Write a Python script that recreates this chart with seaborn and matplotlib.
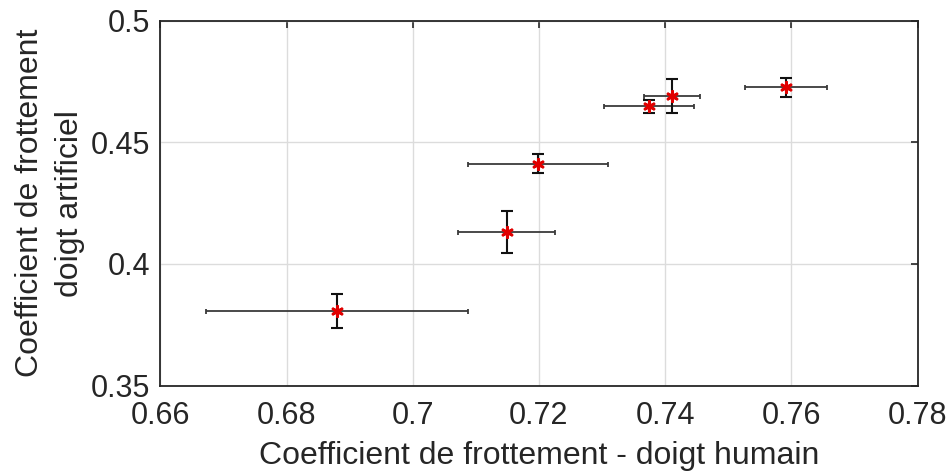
import numpy as np
import pandas as pd
import matplotlib
matplotlib.use('Agg')
import matplotlib.pyplot as plt
import matplotlib.transforms as mtransforms
from matplotlib.ticker import FuncFormatter, MultipleLocator
import seaborn as sns

# values
mu_human = [0.688, 0.7149, 0.7198, 0.7374, 0.7411, 0.7591]
mu_artificial = [0.3807, 0.4131, 0.4412, 0.4648, 0.4691, 0.4726]
err_human = [0.0208, 0.0077, 0.0111, 0.0071, 0.0045, 0.0065]
err_artificial = [0.0069, 0.0086, 0.0039, 0.0027, 0.0069, 0.0039]

df = pd.DataFrame({'human': mu_human, 'artificial': mu_artificial})

sns.set_style('white')
plt.rcParams['font.family'] = ['Liberation Sans', 'DejaVu Sans']
txt = '#262626'

fig = plt.figure(figsize=(9.49, 4.75), dpi=100)
ax = fig.add_axes([0.1689, 0.1884, 0.798, 0.7680])

ax.grid(True, color='#dcdcdc', linewidth=1)
ax.set_axisbelow(True)

# horizontal bars (human finger) then vertical bars (artificial finger)
ax.errorbar(df['human'], df['artificial'], xerr=err_human, fmt='none',
            ecolor='#3a3a3a', elinewidth=1.3, capsize=1.8, capthick=1.3, zorder=2)
ax.errorbar(df['human'], df['artificial'], yerr=err_artificial, fmt='none',
            ecolor='#111111', elinewidth=1.5, capsize=4.3, capthick=1.5, zorder=3)
sns.scatterplot(data=df, x='human', y='artificial', ax=ax, marker=(6, 2, 0),
                s=55, color='#e00000', linewidth=2.0, zorder=4)

ax.set_xlim(0.66, 0.78)
ax.set_ylim(0.35, 0.5)
ax.xaxis.set_major_locator(MultipleLocator(0.02))
ax.yaxis.set_major_locator(MultipleLocator(0.05))
fmt = FuncFormatter(lambda v, p: '%g' % round(v, 4))
ax.xaxis.set_major_formatter(fmt)
ax.yaxis.set_major_formatter(fmt)
ax.tick_params(direction='in', length=5, width=1.2, top=True, right=True,
               labelsize=22, colors=txt)
ax.tick_params(axis='x', pad=11)
ax.tick_params(axis='y', pad=7)

for s in ax.spines.values():
    s.set_visible(True)
    s.set_color(txt)
    s.set_linewidth(1.3)

# axis labels placed in figure pixels, as in the reference
ax.set_xlabel('Coefficient de frottement - doigt humain', fontsize=23, color=txt, va='center')
ax.xaxis.set_label_coords(0.5, 1 - 456 / 475,
                          transform=mtransforms.blended_transform_factory(ax.transAxes, fig.transFigure))
ax.set_ylabel('Coefficient de frottement\ndoigt artificiel', fontsize=23, color=txt,
              va='center', linespacing=1.4)
ax.yaxis.set_label_coords(50 / 949, 0.5,
                          transform=mtransforms.blended_transform_factory(fig.transFigure, ax.transAxes))

fig.savefig('out.png', dpi=100)
